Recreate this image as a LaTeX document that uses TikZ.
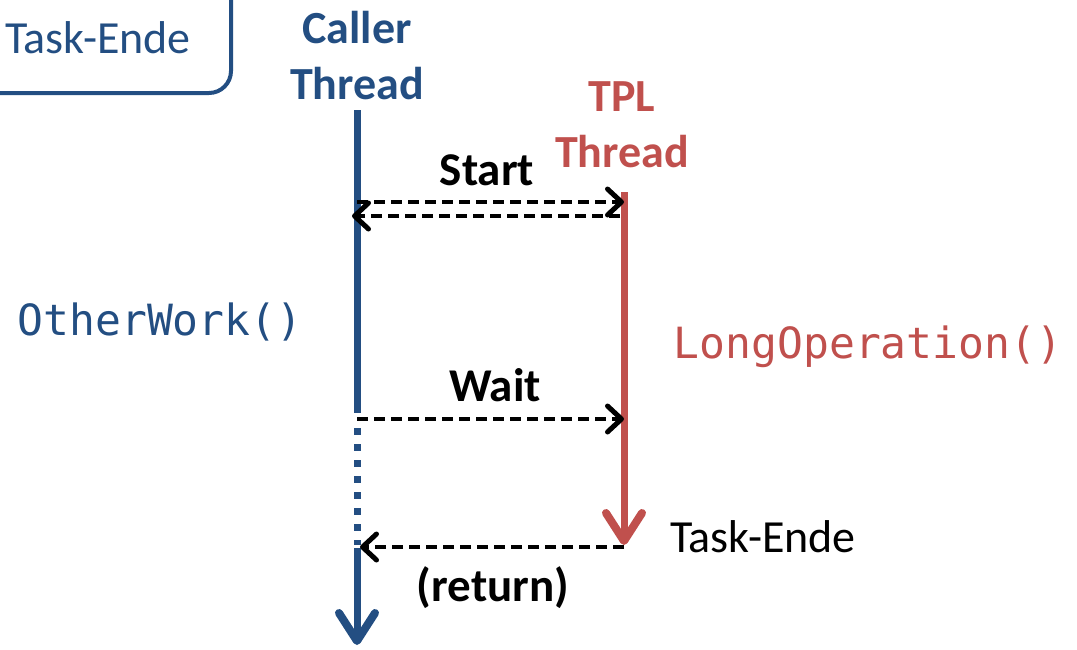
\documentclass[tikz,border=0pt]{standalone}
\usepackage{fontspec}
\setmainfont{Carlito}
\newfontfamily\codefont{DejaVu Sans Mono}
\usetikzlibrary{arrows.meta}
\definecolor{callerblue}{RGB}{35,78,130}
\definecolor{tplred}{RGB}{192,80,77}
\tikzset{
  x=1pt,y=-1pt,
  head/.style={font=\bfseries\fontsize{46}{56}\selectfont,align=center,inner sep=0pt},
  plain/.style={font=\fontsize{46}{52}\selectfont,inner sep=0pt},
  code/.style={font=\codefont\fontsize{43}{50}\selectfont,inner sep=0pt},
  msglabel/.style={font=\bfseries\fontsize{47}{52}\selectfont,inner sep=0pt},
  lifeline/.style={line width=7pt},
  bigtip/.style={-{Straight Barb[length=28pt,width=36pt,line width=8pt,line cap=round,line join=round]}},
  msg/.style={black,line width=3.5pt,dash pattern=on 11pt off 6pt,
    -{Straight Barb[length=14pt,width=26pt,line width=5pt,line cap=round,line join=round]}},
}
\begin{document}
\begin{tikzpicture}
\useasboundingbox (0,0) rectangle (1077,649);
% legend box in the corner, partly outside the page
\draw[callerblue,line width=4pt,rounded corners=22pt] (-40,-40) rectangle (231,93);
\node[plain,text=callerblue] (legend) at (98,38) {Task-Ende};

% thread headings
\node[head,text=callerblue] (caller) at (357,56) {Caller\\Thread};
\node[head,text=tplred] (tpl) at (622,125) {TPL\\Thread};

% lifeline anchors
\coordinate (c0) at (357,110);
\coordinate (c1) at (357,413);
\coordinate (c2) at (357,428);
\coordinate (c3) at (357,545);
\coordinate (c4) at (357,548);
\coordinate (c5) at (357,645);
\coordinate (t0) at (624,192);
\coordinate (t1) at (624,545);

% caller lifeline: working, waiting (dotted), resumed
\draw[lifeline,callerblue] (c0) -- (c1);
\draw[lifeline,callerblue,dash pattern=on 7pt off 9pt] (c2) -- (c3);
\draw[lifeline,callerblue,bigtip] (c4) -- (c5);

% TPL lifeline
\draw[lifeline,tplred,bigtip] (t0) -- (t1);

% messages
\coordinate (s1a) at (357,202); \coordinate (s1b) at (624,202);
\coordinate (s2a) at (620,216); \coordinate (s2b) at (352,216);
\coordinate (w1a) at (357,419); \coordinate (w1b) at (624,419);
\coordinate (r1a) at (624,547); \coordinate (r1b) at (360,547);
\draw[msg] (s1a) -- (s1b);
\draw[msg] (s2a) -- (s2b);
\draw[msg] (w1a) -- (w1b);
\draw[msg] (r1a) -- (r1b);

\node[msglabel] (start) at (487,170) {Start};
\node[msglabel] (wait) at (495,385) {Wait};
\node[msglabel] (ret) at (493,588) {(return)};

% work done on each thread
\node[code,text=callerblue] (other) at (160,322) {OtherWork()};
\node[code,text=tplred] (longop) at (868,347) {LongOperation()};
\node[plain] (ende) at (763,537) {Task-Ende};
\end{tikzpicture}
\end{document}
